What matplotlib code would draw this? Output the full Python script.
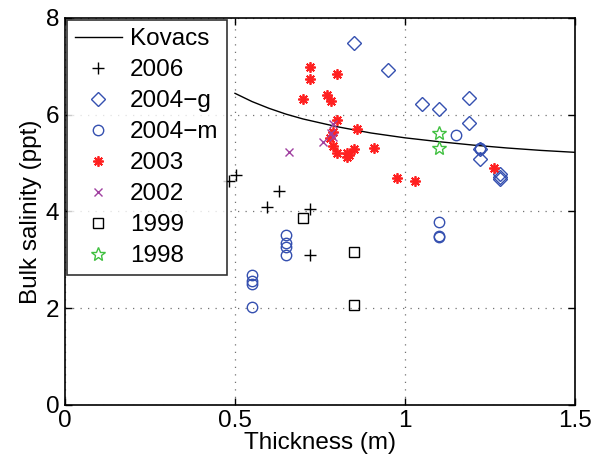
import matplotlib
matplotlib.use("Agg")
import matplotlib.pyplot as plt

plt.rcParams['font.family'] = ['Liberation Sans', 'DejaVu Sans']

# Kovacs curve
kov_x = [0.5, 0.55, 0.6, 0.65, 0.7, 0.75, 0.8, 0.9, 1.0, 1.1, 1.2, 1.3, 1.4, 1.5]
kov_y = [6.44, 6.27, 6.13, 6.01, 5.91, 5.83, 5.75, 5.62, 5.52, 5.44, 5.37, 5.31, 5.26, 5.22]

x2006 = [0.483, 0.502, 0.630, 0.593, 0.721, 0.721]
y2006 = [4.62, 4.75, 4.42, 4.10, 4.05, 3.10]

x2004g = [0.850, 0.951, 1.049, 1.100, 1.189, 1.189, 1.219, 1.219, 1.279, 1.279, 1.279]
y2004g = [7.49, 6.92, 6.22, 6.11, 6.34, 5.83, 5.28, 5.08, 4.77, 4.72, 4.66]

x2004m = [1.150, 1.219, 1.219, 1.100, 1.100, 1.100,
          0.650, 0.650, 0.650, 0.650, 0.551, 0.551, 0.551, 0.551]
y2004m = [5.58, 5.28, 5.32, 3.77, 3.46, 3.49,
          3.51, 3.34, 3.27, 3.10, 2.68, 2.56, 2.49, 2.02]

x2003 = [0.721, 0.721, 0.799, 0.701, 0.770, 0.781, 0.799, 0.860, 0.789, 0.779,
         0.789, 0.799, 0.828, 0.828, 0.850, 0.909, 0.977, 1.029, 1.260, 0.835]
y2003 = [6.99, 6.74, 6.83, 6.32, 6.40, 6.28, 5.89, 5.70, 5.65, 5.51,
         5.35, 5.20, 5.20, 5.13, 5.29, 5.30, 4.68, 4.63, 4.89, 5.17]

x2002 = [0.660, 0.760, 0.789, 0.781, 0.789]
y2002 = [5.22, 5.43, 5.81, 5.61, 5.53]

x1999 = [0.701, 0.850, 0.850]
y1999 = [3.86, 3.15, 2.07]

x1998 = [1.100, 1.100]
y1998 = [5.61, 5.32]

blue = '#3550b0'

fig = plt.figure(figsize=(6.01, 4.58), dpi=100)
ax = fig.add_axes([0.108, 0.116, 0.849, 0.845])

ax.plot(kov_x, kov_y, color='black', lw=1, label='Kovacs')
ax.plot(x2006, y2006, ls='none', marker='+', ms=8, mew=1, color='black', label='2006')
ax.plot(x2004g, y2004g, ls='none', marker='D', ms=7, mew=1, mfc='none', mec=blue, label='2004\u2212g')
ax.plot(x2004m, y2004m, ls='none', marker='o', ms=7.5, mew=1, mfc='none', mec=blue, label='2004\u2212m')
ax.plot(x2003, y2003, ls='none', marker=(8, 2, 0), ms=7.5, mew=1.3, color='#ff2020', label='2003')
ax.plot(x2002, y2002, ls='none', marker='x', ms=6, mew=1, color='#a040a0', label='2002')
ax.plot(x1999, y1999, ls='none', marker='s', ms=7, mew=1, mfc='none', mec='black', label='1999')
ax.plot(x1998, y1998, ls='none', marker='*', ms=10, mew=1, mfc='none', mec='#40c040', label='1998')

ax.set_xlim(0, 1.5)
ax.set_ylim(0, 8)
ax.set_xticks([0, 0.5, 1, 1.5])
ax.set_xticklabels(['0', '0.5', '1', '1.5'])
ax.set_yticks([0, 2, 4, 6, 8])
ax.grid(True, ls=(0, (1, 5)), color='0.45', lw=0.9)
ax.tick_params(direction='in', top=True, right=True, labelsize=17.5, length=5, width=1, pad=4)
for sp in ax.spines.values():
    sp.set_linewidth(1.2)

ax.set_xlabel('Thickness (m)', fontsize=17.5, labelpad=0)
ax.set_ylabel('Bulk salinity (ppt)', fontsize=17.5, labelpad=3)

leg = ax.legend(loc='upper left', numpoints=1, fontsize=17.5, frameon=True, fancybox=False,
                edgecolor='black', handlelength=1.9, labelspacing=0.37, borderaxespad=0.1,
                handletextpad=0.35, borderpad=0.33)
leg.get_frame().set_linewidth(1.2)

fig.savefig('out.png', dpi=100)
